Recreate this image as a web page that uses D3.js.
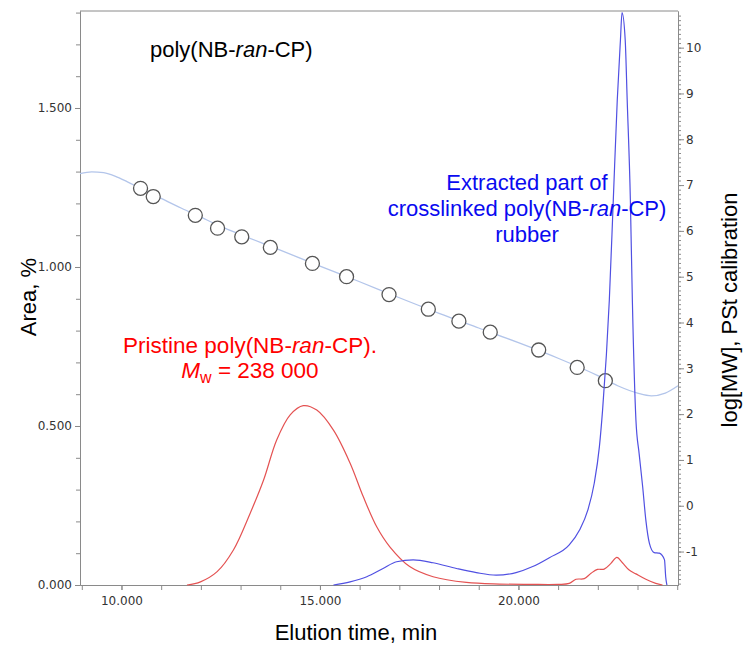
<!DOCTYPE html>
<html><head><meta charset="utf-8">
<script src="https://cdn.jsdelivr.net/npm/d3@7"></script>
<style>body{margin:0;background:#fff}svg{display:block}</style>
</head><body>
<svg id="c" width="743" height="645"></svg>
<script>
// ---- data ----
const timeRed = [11.65, 11.99, 12.41, 12.82, 13.24, 13.58, 13.91, 14.25, 14.58, 14.92, 15.34, 15.76, 16.09, 16.43, 16.76, 17.26, 17.85, 18.69, 19.52, 20.30, 21.0, 21.28, 21.45, 21.66, 21.83, 21.99, 22.16, 22.33, 22.48, 22.62, 22.79, 22.96, 23.21, 23.46, 23.63];
const areaRed = [0, 0.010, 0.042, 0.110, 0.225, 0.33, 0.456, 0.535, 0.564, 0.550, 0.487, 0.383, 0.278, 0.183, 0.120, 0.058, 0.026, 0.008, 0.003, 0.002, 0.002, 0.005, 0.018, 0.020, 0.037, 0.049, 0.050, 0.068, 0.087, 0.070, 0.047, 0.035, 0.018, 0.005, 0];
const timeBlue = [15.34, 15.76, 16.18, 16.59, 16.93, 17.35, 17.85, 18.44, 18.94, 19.44, 19.94, 20.36, 20.78, 21.28, 21.54, 21.75, 21.91, 22.04, 22.12, 22.29, 22.39, 22.49, 22.57, 22.61, 22.69, 22.74, 22.82, 22.87, 22.96, 23.04, 23.13, 23.21, 23.30, 23.42, 23.55, 23.68, 23.71, 23.74];
const areaBlue = [0, 0.010, 0.026, 0.052, 0.073, 0.079, 0.070, 0.052, 0.039, 0.031, 0.039, 0.058, 0.086, 0.126, 0.173, 0.236, 0.320, 0.435, 0.550, 0.896, 1.211, 1.525, 1.714, 1.80, 1.714, 1.525, 1.211, 0.896, 0.519, 0.414, 0.309, 0.204, 0.131, 0.102, 0.100, 0.079, 0.026, 0];
const calTime = [10.48, 10.80, 11.86, 12.42, 13.03, 13.75, 14.81, 15.67, 16.74, 17.73, 18.50, 19.29, 20.51, 21.48, 22.19];
const calLogMW = [6.93, 6.75, 6.34, 6.06, 5.87, 5.64, 5.29, 5.00, 4.61, 4.29, 4.03, 3.79, 3.40, 3.02, 2.73];
const fitTime = [8.955, 9.25, 9.55, 9.85, 10.15, 10.5, 11.0, 11.5, 12.0, 12.5, 13.0, 14.0, 15.0, 16.0, 17.0, 18.0, 19.0, 20.0, 21.0, 22.0, 22.5, 23.0, 23.35, 23.7, 24.02];
const fitLogMW = [7.25, 7.29, 7.27, 7.19, 7.07, 6.92, 6.71, 6.50, 6.30, 6.10, 5.92, 5.58, 5.23, 4.89, 4.54, 4.20, 3.88, 3.56, 3.22, 2.84, 2.62, 2.46, 2.40, 2.46, 2.62];
const xTickLabels = [10, 15, 20];
const yLeftTickLabels = [0, 0.5, 1.0, 1.5];
const yRightTickLabels = [-1, 0, 1, 2, 3, 4, 5, 6, 7, 8, 9, 10];

// ---- layout ----
const L = 80, R = 678, T = 11, B = 585;
const svg = d3.select("#c");
const x = d3.scaleLinear().domain([8.955, 24.02]).range([L, R]);
const yL = d3.scaleLinear().domain([0, 1.805]).range([B, T]);
const yR = d3.scaleLinear().domain([-1.73, 10.80]).range([B, T]);
const axisCol = "#8a8a8a", labCol = "#333";
const tickFont = "DejaVu Sans, Verdana, sans-serif";
const txtFont = "Liberation Sans, Arial, sans-serif";

function styleAxis(g){
  g.select(".domain").attr("stroke", axisCol);
  g.selectAll(".tick line").attr("stroke", axisCol);
  g.selectAll(".tick text").attr("fill", labCol).attr("font-family", tickFont).attr("font-size", 12);
}

// frame top
svg.append("line").attr("x1", L).attr("x2", R).attr("y1", T).attr("y2", T).attr("stroke", axisCol);

// bottom axis: minor every 1, labels at 10/15/20
svg.append("g").attr("transform", `translate(0,${B})`)
  .call(d3.axisBottom(x).tickValues(d3.range(9, 25, 1)).tickSize(5).tickSizeOuter(0).tickFormat(""))
  .call(styleAxis);
svg.append("g").attr("transform", `translate(0,${B})`)
  .call(d3.axisBottom(x).tickValues(xTickLabels).tickSize(5).tickSizeOuter(0).tickPadding(6).tickFormat(d3.format(".3f")))
  .call(styleAxis);

// left axis
svg.append("g").attr("transform", `translate(${L},0)`)
  .call(d3.axisLeft(yL).tickValues(d3.range(0, 1.81, 0.1)).tickSize(4).tickSizeOuter(0).tickFormat(""))
  .call(styleAxis);
svg.append("g").attr("transform", `translate(${L},0)`)
  .call(d3.axisLeft(yL).tickValues(yLeftTickLabels).tickSize(5).tickSizeOuter(0).tickPadding(3).tickFormat(d3.format(".3f")))
  .call(styleAxis);

// right axis
svg.append("g").attr("transform", `translate(${R},0)`)
  .call(d3.axisRight(yR).tickValues(d3.range(-17, 108, 1).map(v => v / 10)).tickSize(3).tickSizeOuter(0).tickFormat(""))
  .call(styleAxis);
svg.append("g").attr("transform", `translate(${R},0)`)
  .call(d3.axisRight(yR).tickValues(yRightTickLabels).tickSize(6).tickSizeOuter(0).tickPadding(2).tickFormat(d => String(d)))
  .call(styleAxis);

// calibration curve
const fitData = fitTime.map((t, i) => [t, fitLogMW[i]]);
svg.append("path").datum(fitData)
  .attr("fill", "none").attr("stroke", "#b3c5ea").attr("stroke-width", 1.3)
  .attr("d", d3.line().x(d => x(d[0])).y(d => yR(d[1])).curve(d3.curveMonotoneX));
svg.append("g").selectAll("circle").data(calTime.map((t, i) => [t, calLogMW[i]]))
  .join("circle").attr("cx", d => x(d[0])).attr("cy", d => yR(d[1])).attr("r", 7)
  .attr("fill", "#fff").attr("stroke", "#555").attr("stroke-width", 1.3);

// chromatograms
const lineRed = d3.line().x(d => x(d[0])).y(d => yL(d[1])).curve(d3.curveCatmullRom.alpha(0.5));
const lineBlue = d3.line().x(d => x(d[0])).y(d => yL(d[1])).curve(d3.curveMonotoneX);
svg.append("path").datum(timeRed.map((t, i) => [t, areaRed[i]]))
  .attr("fill", "none").attr("stroke", "#e45252").attr("stroke-width", 1.2).attr("d", lineRed);
svg.append("path").datum(timeBlue.map((t, i) => [t, areaBlue[i]]))
  .attr("fill", "none").attr("stroke", "#5050e2").attr("stroke-width", 1.2).attr("d", lineBlue);

// axis titles
svg.append("text").attr("x", 356).attr("y", 640).attr("text-anchor", "middle")
  .attr("font-family", txtFont).attr("font-size", 22).attr("fill", "#000").text("Elution time, min");
svg.append("text").attr("transform", "translate(36,297) rotate(-90)").attr("text-anchor", "middle")
  .attr("font-family", txtFont).attr("font-size", 22).attr("fill", "#000").text("Area, %");
svg.append("text").attr("transform", "translate(737,310) rotate(-90)").attr("text-anchor", "middle")
  .attr("font-family", txtFont).attr("font-size", 22).attr("fill", "#000").text("log[MW], PSt calibration");

// annotations
function polyName(t, prefix, suffix){
  t.append("tspan").text(prefix + "poly(NB-");
  t.append("tspan").attr("font-style", "italic").text("ran");
  t.append("tspan").text("-CP)" + suffix);
}
const t1 = svg.append("text").attr("x", 150).attr("y", 57).attr("font-family", txtFont).attr("font-size", 22).attr("fill", "#000");
polyName(t1, "", "");

const b1 = svg.append("text").attr("x", 527).attr("text-anchor", "middle").attr("font-family", txtFont).attr("font-size", 22).attr("fill", "#0a0af0");
b1.append("tspan").attr("x", 527).attr("y", 190).text("Extracted part of");
const b2 = b1.append("tspan").attr("x", 527).attr("y", 216);
b2.append("tspan").text("crosslinked poly(NB-");
b2.append("tspan").attr("font-style", "italic").text("ran");
b2.append("tspan").text("-CP)");
b1.append("tspan").attr("x", 527).attr("y", 242).text("rubber");

const r1 = svg.append("text").attr("x", 250).attr("y", 353).attr("text-anchor", "middle").attr("font-family", txtFont).attr("font-size", 22.5).attr("fill", "#ff0000");
polyName(r1, "Pristine ", ".");
const r2 = svg.append("text").attr("x", 250).attr("y", 378).attr("text-anchor", "middle").attr("font-family", txtFont).attr("font-size", 22.5).attr("fill", "#ff0000");
r2.append("tspan").attr("font-style", "italic").text("M");
r2.append("tspan").attr("font-size", 16).attr("dy", 5).text("w");
r2.append("tspan").attr("dy", -5).text(" = 238 000");
</script>
</body></html>
